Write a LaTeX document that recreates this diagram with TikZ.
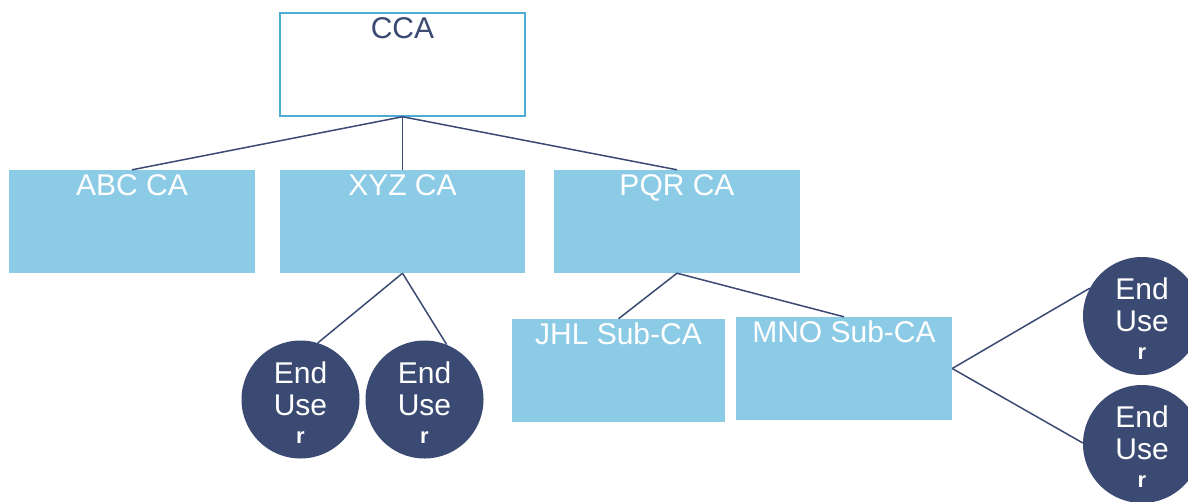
\documentclass[tikz,border=0pt]{standalone}
\usepackage{fontspec}
\setmainfont{Liberation Sans}
\definecolor{boxblue}{HTML}{8CCBE6}
\definecolor{navy}{HTML}{3B4A72}
\definecolor{edgeblue}{HTML}{4BACD6}
\tikzset{
  cabox/.style={rectangle, fill=boxblue, draw=none, inner sep=0pt},
  rootbox/.style={rectangle, fill=white, draw=edgeblue, line width=1.5pt, inner sep=0pt},
  boxtext/.style={anchor=base, inner sep=0pt, text=white, font=\fontsize{30}{32}\selectfont},
  enduser/.style={circle, fill=navy, draw=none, minimum size=118pt, inner sep=0pt},
  eulabel/.style={text=white, align=center, inner sep=0pt, yshift=-3pt, font=\fontsize{30}{32}\selectfont},
  link/.style={draw=navy, line width=1.5pt},
}
\newcommand{\eutext}{End\\Use\\[-4pt]{\bfseries\fontsize{22}{24}\selectfont r}}
\begin{document}
\begin{tikzpicture}[x=1pt, y=-1pt]
\useasboundingbox (0,0) rectangle (1188,501);
\clip (0,0) rectangle (1188,501);
% boxes
\node[rootbox, minimum width=245pt, minimum height=103pt] (cca) at (402.5,64.5) {};
\node[cabox, minimum width=246pt, minimum height=103pt] (abc) at (132,221.5) {};
\node[cabox, minimum width=245pt, minimum height=103pt] (xyz) at (402.5,221.5) {};
\node[cabox, minimum width=246pt, minimum height=103pt] (pqr) at (677,221.5) {};
\node[cabox, minimum width=213pt, minimum height=103pt] (jhl) at (618.5,370.5) {};
\node[cabox, minimum width=216pt, minimum height=103pt] (mno) at (844,368.5) {};
% box texts
\node[boxtext, text=navy] (ccat) at ([yshift=-26pt]cca.north) {CCA};
\node[boxtext] (abct) at ([yshift=-26pt]abc.north) {ABC CA};
\node[boxtext] (xyzt) at ([yshift=-26pt]xyz.north) {XYZ CA};
\node[boxtext] (pqrt) at ([yshift=-26pt]pqr.north) {PQR CA};
\node[boxtext] (jhlt) at ([yshift=-26pt]jhl.north) {JHL Sub-CA};
\node[boxtext] (mnot) at ([yshift=-26pt]mno.north) {MNO Sub-CA};
% end users
\node[enduser, label={[eulabel]center:\eutext}] (u1) at (300.5,399.5) {};
\node[enduser, label={[eulabel]center:\eutext}] (u2) at (424.5,399.5) {};
\node[enduser, label={[eulabel]center:\eutext}] (u3) at (1142,316) {};
\node[enduser, label={[eulabel]center:\eutext}] (u4) at (1142,444) {};
% connectors
\draw[link] (cca.south) -- (abc.north);
\draw[link] (cca.south) -- (xyz.north);
\draw[link] (cca.south) -- (pqr.north);
\draw[link] (xyz.south) -- (u1.73);
\draw[link] (xyz.south) -- (u2.68);
\draw[link] (pqr.south) -- (jhl.north);
\draw[link] (pqr.south) -- (mno.north);
\draw[link] (mno.east) -- (u3.152);
\draw[link] (mno.east) -- (u4.179);
\end{tikzpicture}
\end{document}
